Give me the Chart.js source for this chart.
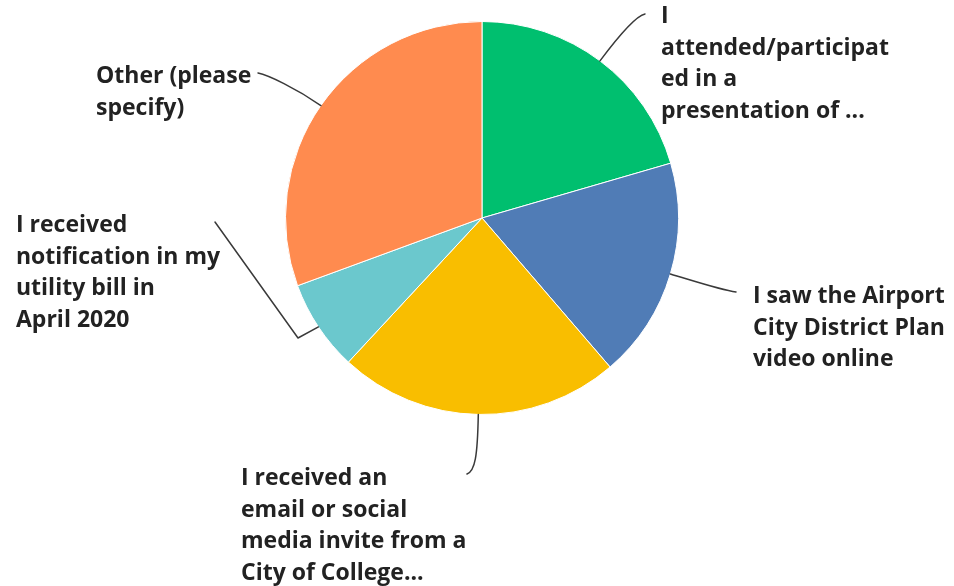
<!DOCTYPE html>
<html>
<head>
<meta charset="utf-8">
<script src="https://cdn.jsdelivr.net/npm/chart.js@4.4.1/dist/chart.umd.min.js"></script>
<style>
  html, body { margin: 0; padding: 0; background: #fff; }
  #wrap { width: 954px; height: 586px; }
</style>
</head>
<body>
<div id="wrap"><canvas id="pie" width="954" height="586"></canvas></div>
<script>
// answer options, one entry per slice (already wrapped into lines)
const answerLines = [
    ['I', 'attended/participat', 'ed in a', 'presentation of ...'],
    ['I saw the Airport', 'City District Plan', 'video online'],
    ['I received an', 'email or social', 'media invite from a', 'City of College...'],
    ['I received', 'notification in my', 'utility bill in', 'April 2020'],
    ['Other (please', 'specify)']
];
const answerShare = [20.5, 18.2, 23.2, 7.5, 30.6];
const sliceColors = ['#00bf6f', '#507cb6', '#f9be00', '#6bc8cd', '#ff8b4f'];

// where each label sits and how its leader line bends in
const labelSpots = [
    { x: 661, y: 23, end: [645, 14], c2: [635, 16], pull: 25 },
    { x: 753, y: 303, end: [736, 292], c2: [721, 290], pull: 25 },
    { x: 241, y: 485, end: [467, 474], c2: [475, 471], pull: 42 },
    { x: 16, y: 232, end: [215, 222], elbow: [298, 338] },
    { x: 96, y: 83, end: [258, 73], c2: [268, 75], pull: 30 }
];
const lineGap = 31.5;

const leaderLabels = {
    id: 'leaderLabels',
    afterDatasetsDraw(chart) {
        const ctx = chart.ctx;
        const arcs = chart.getDatasetMeta(0).data;
        ctx.save();
        ctx.strokeStyle = '#3a3a3a';
        ctx.lineWidth = 1.5;
        ctx.lineJoin = 'round';
        ctx.lineCap = 'round';
        arcs.forEach((arc, i) => {
            const spot = labelSpots[i];
            const mid = (arc.startAngle + arc.endAngle) / 2;
            const ux = Math.cos(mid), uy = Math.sin(mid);
            const sx = arc.x + ux * arc.outerRadius;
            const sy = arc.y + uy * arc.outerRadius;
            ctx.beginPath();
            ctx.moveTo(sx, sy);
            if (spot.elbow) {
                ctx.lineTo(spot.elbow[0], spot.elbow[1]);
                ctx.lineTo(spot.end[0], spot.end[1]);
            } else {
                ctx.bezierCurveTo(sx + ux * spot.pull, sy + uy * spot.pull,
                    spot.c2[0], spot.c2[1], spot.end[0], spot.end[1]);
            }
            ctx.stroke();

            ctx.fillStyle = '#222222';
            ctx.font = 'bold 23px "Open Sans"';
            ctx.textAlign = 'left';
            ctx.textBaseline = 'alphabetic';
            answerLines[i].forEach((line, k) => {
                ctx.fillText(line, spot.x, spot.y + k * lineGap);
            });
        });
        ctx.restore();
    }
};

new Chart(document.getElementById('pie'), {
    type: 'pie',
    data: {
        labels: answerLines.map(l => l.join(' ')),
        datasets: [{
            data: answerShare,
            backgroundColor: sliceColors,
            borderColor: '#ffffff',
            borderWidth: 1
        }]
    },
    options: {
        responsive: false,
        animation: false,
        layout: { padding: { top: 21, bottom: 171, left: 200, right: 190 } },
        plugins: {
            legend: { display: false },
            tooltip: { enabled: false }
        }
    },
    plugins: [leaderLabels]
});
</script>
</body>
</html>
